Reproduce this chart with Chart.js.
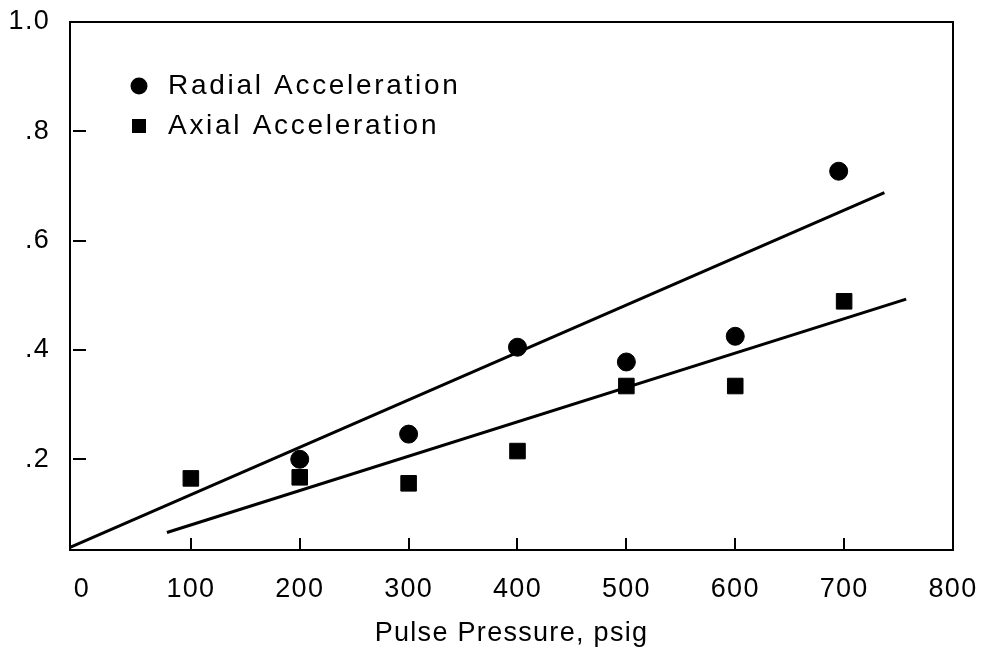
<!DOCTYPE html>
<html>
<head>
<meta charset="utf-8">
<script src="https://cdn.jsdelivr.net/npm/chart.js@4.4.0/dist/chart.umd.min.js"></script>
<style>
  html, body { margin: 0; padding: 0; background: #fff; }
</style>
</head>
<body>
<canvas id="grafico" width="986" height="656"></canvas>
<script>
// pontos medidos
var pressaoRadial = [200, 300, 400, 500, 600, 695];
var aceleracaoRadial = [0.200, 0.246, 0.405, 0.378, 0.425, 0.727];
var pressaoAxial = [100, 200, 300, 400, 500, 600, 700];
var aceleracaoAxial = [0.165, 0.167, 0.156, 0.215, 0.334, 0.334, 0.489];

// retas ajustadas (extremos)
var retaRadialX = [-11, 737];
var retaRadialY = [0.039, 0.688];
var retaAxialX = [78, 757];
var retaAxialY = [0.066, 0.493];

var xTicks = [0, 100, 200, 300, 400, 500, 600, 700, 800];
var yTicks = [0.2, 0.4, 0.6, 0.8, 1.0];
var yTickLabels = ['.2', '.4', '.6', '.8', '1.0'];

var fonte = "'Liberation Sans', Arial, Helvetica, sans-serif";

var pares = function(xs, ys) {
  return xs.map(function(x, i) { return { x: x, y: ys[i] }; });
};

// texto da figura original e um pouco espacado
var espacamento = {
  id: 'espacamento',
  beforeUpdate: function(chart) { chart.ctx.letterSpacing = '1.3px'; },
  beforeDraw: function(chart) { chart.ctx.letterSpacing = '1.3px'; }
};

// caixa em volta da area, tracos para dentro e legenda interna
var moldura = {
  id: 'moldura',
  beforeDatasetsDraw: function(chart) {
    var ctx = chart.ctx, a = chart.chartArea;
    var sx = chart.scales.x, sy = chart.scales.y;
    ctx.save();
    ctx.strokeStyle = '#000';
    ctx.lineWidth = 2;
    ctx.strokeRect(a.left, a.top, a.right - a.left, a.bottom - a.top);
    ctx.beginPath();
    xTicks.forEach(function(v) {
      if (v === 0 || v === 800) return;
      var px = Math.round(sx.getPixelForValue(v));
      ctx.moveTo(px, a.bottom);
      ctx.lineTo(px, a.bottom - 12);
    });
    yTicks.forEach(function(v) {
      if (v === 1.0) return;
      var py = Math.round(sy.getPixelForValue(v));
      ctx.moveTo(a.left + 3, py);
      ctx.lineTo(a.left + 16, py);
    });
    ctx.stroke();
    ctx.restore();
  },
  afterDraw: function(chart) {
    var ctx = chart.ctx, a = chart.chartArea;
    ctx.save();
    ctx.fillStyle = '#000';
    ctx.font = '28px ' + fonte;
    ctx.letterSpacing = '2.7px';
    ctx.textBaseline = 'middle';
    var linha = 0;
    chart.data.datasets.forEach(function(ds) {
      if (!ds.naLegenda) return;
      var cx = a.left + 69, cy = a.top + 64 + linha * 40;
      if (ds.pointStyle === 'circle') {
        ctx.beginPath();
        ctx.arc(cx, cy, 8.5, 0, Math.PI * 2);
        ctx.fill();
      } else {
        ctx.fillRect(cx - 7, cy - 7, 14, 14);
      }
      ctx.fillText(ds.label, cx + 29, cy);
      linha++;
    });
    ctx.restore();
  }
};

new Chart(document.getElementById('grafico'), {
  type: 'scatter',
  data: {
    datasets: [{
      label: 'Radial Acceleration',
      data: pares(pressaoRadial, aceleracaoRadial),
      pointStyle: 'circle',
      pointRadius: 9,
      backgroundColor: '#000',
      borderColor: '#000',
      naLegenda: true
    }, {
      label: 'Axial Acceleration',
      data: pares(pressaoAxial, aceleracaoAxial),
      pointStyle: 'rect',
      pointRadius: 11,
      backgroundColor: '#000',
      borderColor: '#000',
      naLegenda: true
    }, {
      label: 'Radial fit',
      type: 'line',
      data: pares(retaRadialX, retaRadialY),
      borderColor: '#000',
      borderWidth: 3,
      pointRadius: 0,
      fill: false
    }, {
      label: 'Axial fit',
      type: 'line',
      data: pares(retaAxialX, retaAxialY),
      borderColor: '#000',
      borderWidth: 3,
      pointRadius: 0,
      fill: false
    }]
  },
  options: {
    responsive: false,
    animation: false,
    layout: { padding: { top: 22, right: 33, left: 0, bottom: 0 } },
    plugins: {
      legend: { display: false },
      tooltip: { enabled: false }
    },
    scales: {
      x: {
        type: 'linear',
        min: -11,
        max: 800,
        grid: { display: false, drawTicks: true, tickLength: 20 },
        border: { display: false },
        afterBuildTicks: function(scale) {
          scale.ticks = xTicks.map(function(v) { return { value: v }; });
        },
        afterFit: function(scale) { scale.height = 106; },
        ticks: {
          color: '#000',
          padding: 3,
          maxRotation: 0,
          font: { family: fonte, size: 27 }
        },
        title: {
          display: true,
          text: 'Pulse Pressure, psig',
          color: '#000',
          font: { family: fonte, size: 27 },
          padding: { top: 0, bottom: 6 }
        }
      },
      y: {
        type: 'linear',
        min: 0.034,
        max: 1.0,
        grid: { display: false, drawTicks: true, tickLength: 18 },
        border: { display: false },
        afterBuildTicks: function(scale) {
          scale.ticks = yTicks.map(function(v) { return { value: v }; });
        },
        afterFit: function(scale) { scale.width = 70; },
        ticks: {
          color: '#000',
          padding: 2,
          font: { family: fonte, size: 27 },
          callback: function(v, i) { return yTickLabels[i]; }
        }
      }
    }
  },
  plugins: [espacamento, moldura]
});
</script>
</body>
</html>
